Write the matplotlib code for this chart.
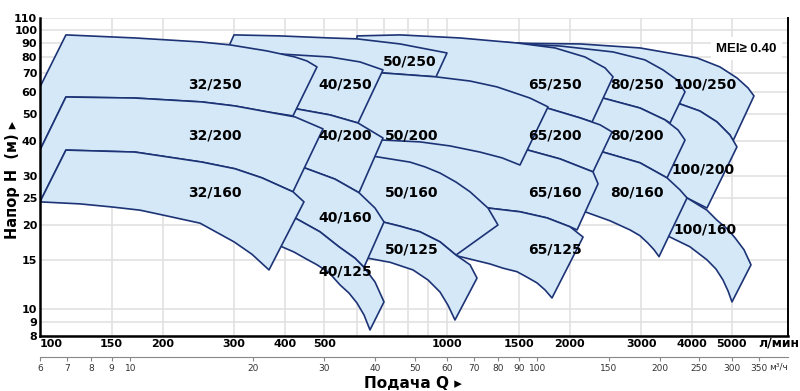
import matplotlib
matplotlib.use('Agg')
import matplotlib.pyplot as plt
from matplotlib.ticker import FixedLocator, NullLocator

# pump fields: top curve (left->right), then bottom curve (right->left); Q l/min, H m
q_32_250 = [115.8, 171.2, 247.3, 293.0, 361.2, 423.1, 452.9, 479.2, 418.3, 363.3, 301.4, 250.1, 171.2, 115.8, 100, 100]
h_32_250 = [96.0, 93.6, 90.6, 88.4, 84.1, 80.0, 77.4, 73.7, 49.2, 50.8, 53.4, 55.2, 57.0, 57.5, 37.1, 62.5]
q_32_200 = [115.8, 171.2, 250.1, 301.4, 363.3, 423.1, 495.8, 418.3, 351.1, 301.4, 250.1, 171.2, 115.8, 100, 100]
h_32_200 = [57.5, 57.0, 55.2, 53.4, 50.8, 48.8, 44.2, 26.3, 29.5, 31.8, 33.6, 36.5, 37.1, 24.2, 37.1]
q_32_160 = [115.8, 171.2, 250.1, 301.4, 351.1, 418.3, 445.2, 365.3, 331.8, 299.7, 247.3, 200.6, 176.1, 150.3, 125.4, 100]
h_32_160 = [37.1, 36.5, 33.6, 31.8, 29.5, 26.3, 24.2, 13.8, 15.7, 17.4, 20.3, 21.7, 22.6, 23.2, 23.8, 24.2]

q_40_250 = [233.6, 310.0, 388.8, 515.8, 611.2, 696.2, 604.4, 515.8, 427.9, 328.1, 218.3]
h_40_250 = [79.4, 81.4, 82.0, 80.0, 76.8, 71.9, 46.4, 49.6, 52.1, 54.3, 58.5]
q_40_200 = [247.3, 328.1, 427.9, 515.8, 604.4, 696.2, 607.8, 530.6, 447.7, 328.1, 233.6]
h_40_200 = [56.1, 54.3, 52.1, 49.6, 46.4, 41.0, 26.1, 29.2, 32.0, 34.2, 37.1]
q_40_160 = [247.3, 347.1, 447.7, 530.6, 607.8, 665.4, 700.2, 625.2, 594.2, 542.7, 487.4, 423.1, 347.1, 247.3]
h_40_160 = [37.1, 34.8, 32.0, 29.2, 26.1, 23.0, 20.5, 14.1, 15.2, 16.7, 18.9, 21.2, 23.6, 26.7]
q_40_125 = [328.1, 423.1, 487.4, 542.7, 594.2, 625.2, 665.4, 700.2, 646.8, 625.2, 601.0, 574.4, 545.8,
            512.9, 479.2, 447.7, 420.7, 393.2, 328.1]
h_40_125 = [23.6, 21.2, 18.9, 16.7, 15.2, 14.1, 12.5, 10.6, 8.41, 9.52, 10.5, 11.4, 12.2,
            13.5, 14.4, 15.2, 16.0, 16.7, 18.4]

q_50_250 = [299.7, 388.8, 515.8, 601.0, 766.5, 1000, 939.6, 696.2, 515.8, 388.8, 284.8]
h_50_250 = [96.0, 95.2, 93.6, 92.9, 89.1, 82.7, 67.9, 70.1, 76.8, 79.4, 81.4]
q_50_200 = [487.4, 696.2, 939.6, 1139, 1327, 1599, 1771, 1511, 1365, 1205, 1017, 858.3, 696.2, 545.8, 487.4]
h_50_200 = [71.9, 70.1, 67.9, 65.6, 62.5, 57.0, 53.0, 32.8, 34.8, 36.5, 38.4, 39.7, 40.3, 43.8, 45.7]
q_50_160 = [545.8, 673.0, 811.1, 883.0, 961.2, 1052, 1139, 1261, 1334, 1052, 961.2, 858.3, 766.5, 696.2, 561.5]
h_50_160 = [37.1, 35.1, 33.6, 32.3, 30.7, 28.5, 26.3, 23.0, 20.0, 15.6, 17.4, 18.9, 19.8, 20.5, 23.6]
q_50_125 = [577.6, 696.2, 766.5, 858.3, 961.2, 1052, 1139, 1185, 1046, 1006, 961.2, 898.1, 825.0, 724.4, 639.6, 577.6]
h_50_125 = [21.7, 20.5, 19.8, 18.9, 17.4, 15.6, 14.4, 12.9, 9.13, 10.3, 11.5, 12.7, 13.8, 14.7, 15.2, 15.6]

q_65_250 = [601.0, 766.5, 1076, 1486, 1842, 2183, 2445, 2558, 2272, 2122, 1761, 1017, 601.0]
h_65_250 = [95.2, 96.0, 93.6, 89.8, 86.2, 80.0, 73.1, 67.9, 46.8, 48.4, 52.5, 58.5, 61.0]
q_65_200 = [961.2, 1350, 1761, 2122, 2377, 2544, 2284, 1895, 1581, 1205, 961.2]
h_65_200 = [61.0, 57.0, 52.5, 48.4, 45.7, 43.1, 31.0, 34.5, 37.1, 38.7, 40.3]
q_65_160 = [577.6, 696.2, 908.3, 1205, 1581, 1895, 2284, 2350, 2087, 2006, 1761, 1511, 1261, 961.2, 766.5, 577.6]
h_65_160 = [44.5, 41.7, 40.3, 38.1, 37.1, 34.5, 31.0, 28.1, 19.2, 19.7, 21.2, 22.3, 23.0, 24.6, 25.6, 27.8]
q_65_125 = [858.3, 1076, 1261, 1511, 1761, 2006, 2159, 1811, 1741, 1664, 1572, 1486, 1373, 1275, 1058, 961.2, 858.3]
h_65_125 = [24.6, 23.6, 23.0, 22.3, 21.2, 19.7, 18.1, 10.95, 11.7, 12.4, 13.0, 13.6, 14.0, 14.5, 15.5, 15.6, 16.3]

q_80_250 = [1076, 1486, 1895, 2558, 3065, 3394, 3674, 3844, 3531, 3433, 2980, 2417, 1895, 1076]
h_80_250 = [88.4, 89.1, 87.6, 83.4, 78.1, 71.9, 66.2, 60.0, 46.4, 47.6, 52.5, 57.0, 61.0, 63.5]
q_80_200 = [1692, 2417, 2980, 3433, 3695, 3844, 3472, 2980, 2417, 2006, 1692]
h_80_200 = [58.5, 57.0, 52.5, 47.6, 43.8, 40.3, 29.5, 33.4, 36.5, 38.7, 40.3]
q_80_160 = [1895, 2417, 2980, 3472, 3737, 3888, 3318, 3226, 3118, 2980, 2816, 2515, 2183, 1950, 1895]
h_80_160 = [37.1, 36.5, 33.4, 29.5, 26.7, 25.0, 15.4, 16.3, 17.2, 18.3, 19.2, 20.7, 22.3, 23.6, 24.6]

q_100_250 = [1275, 1599, 2122, 2980, 4114, 4684, 5157, 5489, 5678, 5042, 4957, 4606, 4183, 3737, 2980, 1275]
h_100_250 = [90.6, 89.5, 89.1, 86.2, 79.4, 73.7, 67.3, 62.0, 58.0, 40.0, 42.0, 46.8, 51.2, 54.3, 58.5, 63.5]
q_100_200 = [2661, 3153, 3737, 4183, 4606, 4957, 5157, 4352, 3888, 3337, 2661]
h_100_200 = [56.1, 55.2, 54.3, 51.2, 46.8, 42.0, 38.1, 23.0, 25.0, 27.8, 31.5]
q_100_160 = [2980, 3433, 3888, 4352, 4606, 4875, 5099, 5366, 5583, 5014, 4903, 4765, 4580, 4352, 3954, 3531, 3153, 2980]
h_100_160 = [29.0, 26.7, 25.0, 22.6, 20.8, 19.4, 18.0, 16.3, 14.4, 10.6, 11.6, 12.7, 13.9, 15.0, 16.7, 18.1, 20.0, 20.8]

# drawing order: bigger pumps underneath
fields = [
    (q_100_250, h_100_250), (q_100_200, h_100_200), (q_100_160, h_100_160),
    (q_80_250, h_80_250), (q_80_200, h_80_200), (q_80_160, h_80_160),
    (q_65_250, h_65_250), (q_65_200, h_65_200), (q_65_160, h_65_160), (q_65_125, h_65_125),
    (q_50_250, h_50_250), (q_50_200, h_50_200), (q_50_160, h_50_160), (q_50_125, h_50_125),
    (q_40_250, h_40_250), (q_40_200, h_40_200), (q_40_160, h_40_160), (q_40_125, h_40_125),
    (q_32_250, h_32_250), (q_32_200, h_32_200), (q_32_160, h_32_160),
]

label_names = ['32/250', '40/250', '50/250', '65/250', '80/250', '100/250',
               '32/200', '40/200', '50/200', '65/200', '80/200', '100/200',
               '32/160', '40/160', '50/160', '65/160', '80/160', '100/160',
               '40/125', '50/125', '65/125']
label_q = [269, 561, 811, 1842, 2930, 4300,
           269, 561, 820, 1842, 2930, 4256,
           269, 561, 820, 1842, 2930, 4300,
           561, 820, 1842]
label_h = [63.5, 63.5, 76.8, 63.5, 63.5, 63.5,
           42.0, 42.0, 42.0, 42.0, 42.0, 31.5,
           26.1, 21.2, 26.1, 26.1, 26.1, 19.2,
           13.6, 16.3, 16.3]

x_ticks = [100, 150, 200, 300, 400, 500, 1000, 1500, 2000, 3000, 4000, 5000]
x_grid = [600, 700, 800, 900]
y_ticks = [8, 9, 10, 15, 20, 25, 30, 40, 50, 60, 70, 80, 90, 100, 110]
m3h_ticks = [6, 7, 8, 9, 10, 20, 30, 40, 50, 60, 70, 80, 90, 100, 150, 200, 250, 300, 350]

fill_c = '#d5e8f8'
edge_c = '#1c3375'
narrow = ['Liberation Sans Narrow', 'DejaVu Sans']

fig = plt.figure(figsize=(8, 3.91), dpi=100)
ax = fig.add_axes([0.05, 55 / 391, 0.935, 317.6 / 391])
ax.set_xscale('log')
ax.set_yscale('log')
ax.set_xlim(100, 6883)
ax.set_ylim(8, 110)

for q, h in fields:
    ax.fill(q, h, facecolor=fill_c, edgecolor=edge_c, linewidth=1.2, joinstyle='round', zorder=2)

for name, q, h in zip(label_names, label_q, label_h):
    ax.text(q, h, name, ha='center', va='center', fontsize=10, fontweight='bold',
            family=narrow, zorder=5)

ax.xaxis.set_major_locator(FixedLocator(x_ticks))
ax.xaxis.set_minor_locator(FixedLocator(x_grid))
ax.yaxis.set_major_locator(FixedLocator(y_ticks))
ax.yaxis.set_minor_locator(NullLocator())
ax.set_xticklabels([str(v) for v in x_ticks], fontsize=8, fontweight='bold', family=narrow)
ax.set_yticklabels([str(v) for v in y_ticks], fontsize=8, fontweight='bold', family=narrow)
ax.get_xticklabels()[0].set_horizontalalignment('left')
ax.tick_params(axis='both', which='both', length=0, pad=2)
ax.grid(True, which='both', color='#e2e2e2', linewidth=1.2, zorder=0)
ax.set_axisbelow(True)

for side in ['left', 'bottom', 'right']:
    ax.spines[side].set_color('black')
    ax.spines[side].set_linewidth(1.8)
    ax.spines[side].set_zorder(6)
ax.spines['right'].set_linewidth(1.4)
ax.spines['top'].set_visible(False)

ax.text(0.985, 0.905, 'MEI\u2265 0.40', transform=ax.transAxes, ha='right', va='center',
        fontsize=9.5, fontweight='bold', family=['Liberation Sans', 'DejaVu Sans'], zorder=7,
        bbox=dict(facecolor='white', edgecolor='none', pad=4))

# m3/h scale under the main axis
ax2 = fig.add_axes([0.05, 1 - 357 / 391, 0.935, 0.0001])
ax2.set_xscale('log')
ax2.set_xlim(100 * 0.06, 6883 * 0.06)
ax2.xaxis.set_major_locator(FixedLocator(m3h_ticks))
ax2.xaxis.set_minor_locator(NullLocator())
ax2.set_xticklabels([str(v) for v in m3h_ticks], fontsize=6.5, color='#333333', family=narrow)
ax2.set_yticks([])
for side in ['left', 'top', 'right']:
    ax2.spines[side].set_visible(False)
ax2.spines['bottom'].set_color('#888888')
ax2.spines['bottom'].set_linewidth(0.8)
ax2.tick_params(axis='x', length=3, width=0.8, color='#888888', pad=2)
ax2.patch.set_visible(False)

fig.text(758 / 800, 1 - 343 / 391, 'л/мин', ha='left', va='center', fontsize=9,
         fontweight='bold', family=narrow)
fig.text(778 / 800, 1 - 367 / 391, 'м³/ч', ha='center', va='center', fontsize=6.5,
         color='#333333', family=narrow)
fig.text(413 / 800, 1 - 384 / 391, 'Подача Q \u25b8', ha='center', va='center', fontsize=11,
         fontweight='bold', family=narrow)
fig.text(13 / 800, 1 - 180 / 391, 'Напор H  (м) \u25b8', ha='center', va='center', fontsize=10.5,
         fontweight='bold', rotation=90, family=narrow)

fig.savefig('out.png', dpi=100, facecolor='white')
